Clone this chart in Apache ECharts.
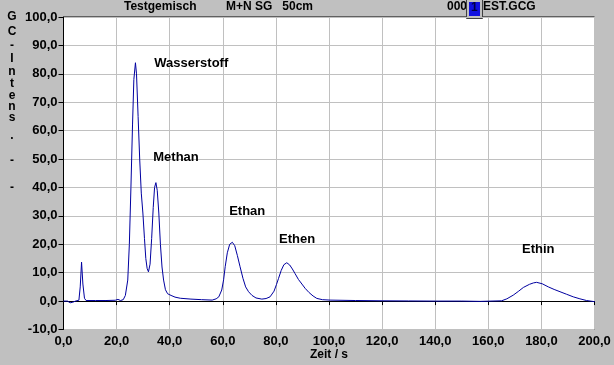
<!DOCTYPE html>
<html>
<head>
<meta charset="utf-8">
<script src="https://cdn.jsdelivr.net/npm/echarts@6/dist/echarts.min.js"></script>
<style>html,body{margin:0;padding:0;background:#c0c0c0;}#c{width:614px;height:365px;}</style>
</head>
<body>
<div id="c"></div>
<script>
const timeS = [0,1.5,2.5,3.5,4.5,5.8,6.3,6.8,7.3,7.9,8.5,12,16,19.5,20.5,21.5,22.5,23.3,24.2,24.8,25.4,26.0,26.5,27.1,27.5,28.1,28.7,29.3,29.9,30.5,31.0,31.5,32.0,32.6,33.2,33.8,34.3,34.8,35.3,35.9,36.5,37.1,37.7,38.4,39.2,40.5,42,44,48,52,56,57.5,58.5,59.6,60.3,60.9,61.7,62.6,63.6,64.5,65.5,66.5,67.6,68.6,69.7,71,72.5,74.7,76.3,77.8,79.3,80.2,81,82,83,84.1,85.2,86.2,87.2,88.5,89.8,91,92.5,94,95.4,97.5,100.4,110,120,130,140,150,157,161,165,167,169.4,171.3,173.2,175.5,177,178.2,180.3,182.6,184.8,187,189.5,192,194.5,197,200,203,207];
const intensity = [0,0,-0.6,-0.4,0,0.3,5,13.7,6,1,0.2,0.2,0.2,0.3,0.6,0.2,0.5,2,7.4,20,40,62,78,83.9,80,65,50,38,31,22,15,11.5,10.3,13,22,33,40,41.7,39,31,20,12,7.4,4,2.6,2.0,1.4,1.0,0.7,0.5,0.35,0.8,1.5,3.9,7.5,12.1,17,20,20.7,19.5,16,12.1,8,5,3.3,2,1.1,0.7,0.9,1.5,3.5,5.8,8,10.8,12.8,13.5,12.7,11.3,9.7,7.6,6,4.5,3,1.8,0.95,0.5,0.35,0.2,0.1,0.05,0,0,-0.1,0,0.1,0.8,2.1,3.4,4.8,5.9,6.4,6.6,6.1,5.0,4.1,3.3,2.4,1.5,0.8,0.2,-0.2,-0.4,-0.4];
const peakNames = ['Wasserstoff','Methan','Ethan','Ethen','Ethin'];
const peakLabelTime = [34.2,33.8,62.4,81.2,172.7];
const peakLabelValue = [83.5,50.4,31.7,21.8,18.3];
const yTitleChars = ['G','C','-','I','n','t','e','n','s','.','-','-'];
const yTitleY = [17,32,46,59,72,84,96,107,118,136,161,188];

const fmt = v => v.toFixed(1).replace('.', ',');
const FONT = 'Liberation Sans';
const chart = echarts.init(document.getElementById('c'));
const graphics = [
  {type:'text', left:124, top:1, style:{text:'Testgemisch', font:'bold 12px "Liberation Sans"', fill:'#000'}},
  {type:'text', left:226, top:1, style:{text:'M+N SG   50cm', font:'bold 12px "Liberation Sans"', fill:'#000'}},
  {type:'text', left:447, top:1, style:{text:'000', font:'bold 12px "Liberation Sans"', fill:'#000'}},
  {type:'text', left:483, top:1, style:{text:'EST.GCG', font:'bold 12px "Liberation Sans"', fill:'#000'}},
  {type:'rect', shape:{x:466.5, y:-0.5, width:16, height:19}, style:{fill:'#c0c0c0', stroke:'#404040', lineWidth:1}},
  {type:'rect', shape:{x:469, y:2, width:11, height:14}, style:{fill:'#1010e0'}},
  {type:'text', left:471, top:2, style:{text:'1', font:'bold 12px "Liberation Sans"', fill:'#000040'}}
];
yTitleChars.forEach((ch, i) => {
  graphics.push({type:'text', x:12, y:yTitleY[i], style:{text:ch, font:'bold 12px "Liberation Sans"', fill:'#000', align:'center', verticalAlign:'middle'}});
});
graphics.push({type:'text', x:329, y:355, style:{text:'Zeit / s', font:'bold 12px "Liberation Sans"', fill:'#000', align:'center', verticalAlign:'middle'}});

chart.setOption({
  animation:false,
  backgroundColor:'#c0c0c0',
  grid:{left:63.5, right:19.5, top:17, bottom:35.5, show:true, backgroundColor:'#ffffff', borderColor:'#000', borderWidth:1},
  xAxis:{type:'value', min:0, max:200, interval:20,
    axisLine:{show:true, lineStyle:{color:'#000'}},
    axisTick:{show:true, length:4, lineStyle:{color:'#000'}},
    axisLabel:{formatter:fmt, color:'#000', fontFamily:FONT, fontWeight:'bold', fontSize:13, margin:5},
    splitLine:{show:true, lineStyle:{color:'#c0c0c0', width:1}}},
  yAxis:{type:'value', min:-10, max:100, interval:10,
    axisLine:{show:true, lineStyle:{color:'#000'}},
    axisTick:{show:true, length:5, lineStyle:{color:'#000'}},
    axisLabel:{formatter:fmt, color:'#000', fontFamily:FONT, fontWeight:'bold', fontSize:13, margin:6},
    splitLine:{show:true, lineStyle:{color:'#c0c0c0', width:1}}},
  graphic:graphics,
  series:[{
    type:'line', clip:false, symbol:'none', smooth:false,
    lineStyle:{color:'#0000a0', width:1},
    data: timeS.map((t, i) => [t, intensity[i]]),
    markPoint:{
      symbol:'rect', symbolSize:0, silent:true,
      label:{show:true, position:'right', distance:0, color:'#000', fontFamily:FONT, fontWeight:'bold', fontSize:13, formatter: p => p.name},
      data: peakNames.map((n, i) => ({name:n, coord:[peakLabelTime[i], peakLabelValue[i]]}))
    }
  }]
});
</script>
</body>
</html>
